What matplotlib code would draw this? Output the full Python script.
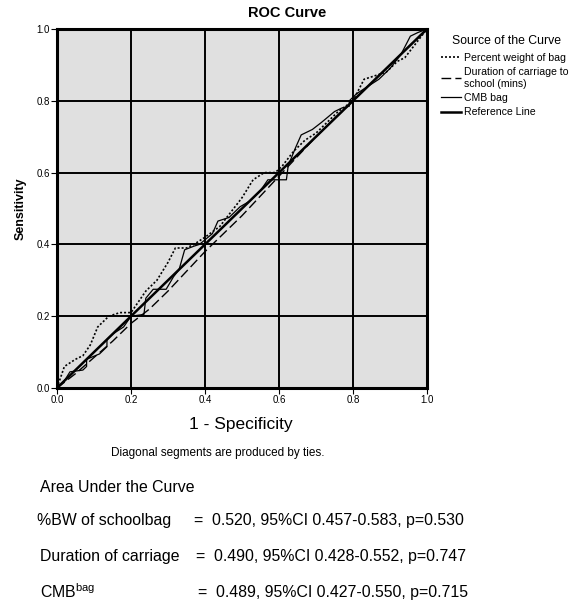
import matplotlib
matplotlib.use("Agg")
import matplotlib.pyplot as plt

plt.rcParams['font.family'] = ['Liberation Sans', 'DejaVu Sans']

# ROC curves (1 - specificity, sensitivity)
bw_x = [0, 0.01, 0.02, 0.05, 0.07, 0.09, 0.11, 0.14, 0.17, 0.2, 0.22, 0.24, 0.27, 0.3,
        0.32, 0.35, 0.37, 0.4, 0.44, 0.47, 0.5, 0.53, 0.56, 0.59, 0.61, 0.64, 0.67, 0.7,
        0.73, 0.76, 0.8, 0.83, 0.86, 0.89, 0.92, 0.94, 0.97, 1.0]
bw_y = [0, 0.03, 0.06, 0.08, 0.09, 0.12, 0.17, 0.2, 0.21, 0.21, 0.24, 0.27, 0.3, 0.35,
        0.39, 0.39, 0.4, 0.42, 0.45, 0.49, 0.53, 0.58, 0.6, 0.6, 0.62, 0.66, 0.69, 0.71,
        0.74, 0.77, 0.8, 0.86, 0.87, 0.88, 0.91, 0.92, 0.96, 1.0]

dur_x = [0, 0.05, 0.1, 0.15, 0.2, 0.25, 0.3, 0.35, 0.4, 0.45, 0.5, 0.55, 0.6, 0.65, 0.7, 0.8, 0.9, 1.0]
dur_y = [0, 0.04, 0.085, 0.13, 0.18, 0.22, 0.27, 0.325, 0.38, 0.43, 0.48, 0.535, 0.59, 0.645,
         0.7, 0.8, 0.9, 1.0]

cmb_x = [0, 0.02, 0.035, 0.07, 0.08, 0.08, 0.115, 0.135, 0.135, 0.15, 0.18, 0.2, 0.235,
         0.24, 0.26, 0.295, 0.315, 0.33, 0.345, 0.37, 0.385, 0.42, 0.435, 0.465, 0.495, 0.52,
         0.55, 0.57, 0.58, 0.62, 0.625, 0.645, 0.66, 0.69, 0.715, 0.75, 0.77, 0.79, 0.79,
         0.81, 0.84, 0.87, 0.9, 0.93, 0.955, 0.975, 1.0]
cmb_y = [0, 0.02, 0.045, 0.05, 0.06, 0.08, 0.095, 0.115, 0.135, 0.15, 0.17, 0.2, 0.205,
         0.25, 0.275, 0.275, 0.31, 0.33, 0.385, 0.395, 0.4, 0.43, 0.465, 0.475, 0.505, 0.52,
         0.55, 0.58, 0.58, 0.58, 0.62, 0.67, 0.705, 0.72, 0.74, 0.77, 0.78, 0.785, 0.8,
         0.82, 0.84, 0.86, 0.89, 0.93, 0.98, 0.99, 1.0]

ref_x = [0, 1]
ref_y = [0, 1]

ticks = [0.0, 0.2, 0.4, 0.6, 0.8, 1.0]
auc_labels = ['%BW of schoolbag', 'Duration of carriage', 'CMB$^{\\mathregular{bag}}$']
auc_values = ['0.520, 95%CI 0.457-0.583, p=0.530',
              '0.490, 95%CI 0.428-0.552, p=0.747',
              '0.489, 95%CI 0.427-0.550, p=0.715']

W, H = 575, 604
fig = plt.figure(figsize=(W / 100, H / 100), dpi=100)
ax = fig.add_axes([57 / W, 1 - 388 / H, 370 / W, 359 / H])
ax.set_facecolor('#e0e0e0')

for t in ticks[1:-1]:
    ax.axvline(t, color='black', lw=1.4, zorder=1)
    ax.axhline(t, color='black', lw=1.4, zorder=1)

l1, = ax.plot(bw_x, bw_y, color='black', lw=1.2, linestyle=(0, (1.2, 1.2)), zorder=3)
l2, = ax.plot(dur_x, dur_y, color='black', lw=1.0, linestyle=(0, (7, 3)), zorder=3)
l3, = ax.plot(cmb_x, cmb_y, color='black', lw=0.9, zorder=3)
l4, = ax.plot(ref_x, ref_y, color='black', lw=1.8, zorder=4)

ax.set_xlim(0, 1)
ax.set_ylim(0, 1)
ax.set_xticks(ticks)
ax.set_yticks(ticks)
ax.set_xticklabels(['%.1f' % t for t in ticks], fontsize=7)
ax.set_yticklabels(['%.1f' % t for t in ticks], fontsize=7)
ax.tick_params(length=4, width=0.8, pad=1)
for s in ax.spines.values():
    s.set_linewidth(2.2)

ax.set_ylabel('Sensitivity', fontsize=9, fontweight='bold', labelpad=7)

fig.text(287 / W, 1 - 13 / H, 'ROC Curve', fontsize=10.5, fontweight='bold', ha='center', va='center')
fig.text(241 / W, 1 - 425 / H, '1 - Specificity', fontsize=12.5, ha='center', va='center')
fig.text(218 / W, 1 - 453 / H, 'Diagonal segments are produced by ties.', fontsize=8.5, ha='center', va='center')

# legend
fig.text(506 / W, 1 - 41 / H, 'Source of the Curve', fontsize=8.8, ha='center', va='center')
fig.legend([l1, l2, l3, l4],
           ['Percent weight of bag', 'Duration of carriage to\nschool (mins)', 'CMB bag', 'Reference Line'],
           loc='upper left', bbox_to_anchor=(441 / W, 1 - 53 / H), frameon=False,
           fontsize=7.6, handlelength=1.9, handletextpad=0.25, labelspacing=0.4,
           borderaxespad=0, borderpad=0)

fig.text(40 / W, 1 - 488 / H, 'Area Under the Curve', fontsize=11.4, va='center')
rows_y = [521, 557, 592]
eq_x = [194, 196, 198]
for lab, val, y, ex in zip(auc_labels, auc_values, rows_y, eq_x):
    fig.text((40 if lab[0] != '%' else 37) / W, 1 - y / H, lab, fontsize=11.4, va='center')
    fig.text(ex / W, 1 - y / H, '=  ' + val, fontsize=11.4, va='center')

fig.savefig('out.png', dpi=100)
